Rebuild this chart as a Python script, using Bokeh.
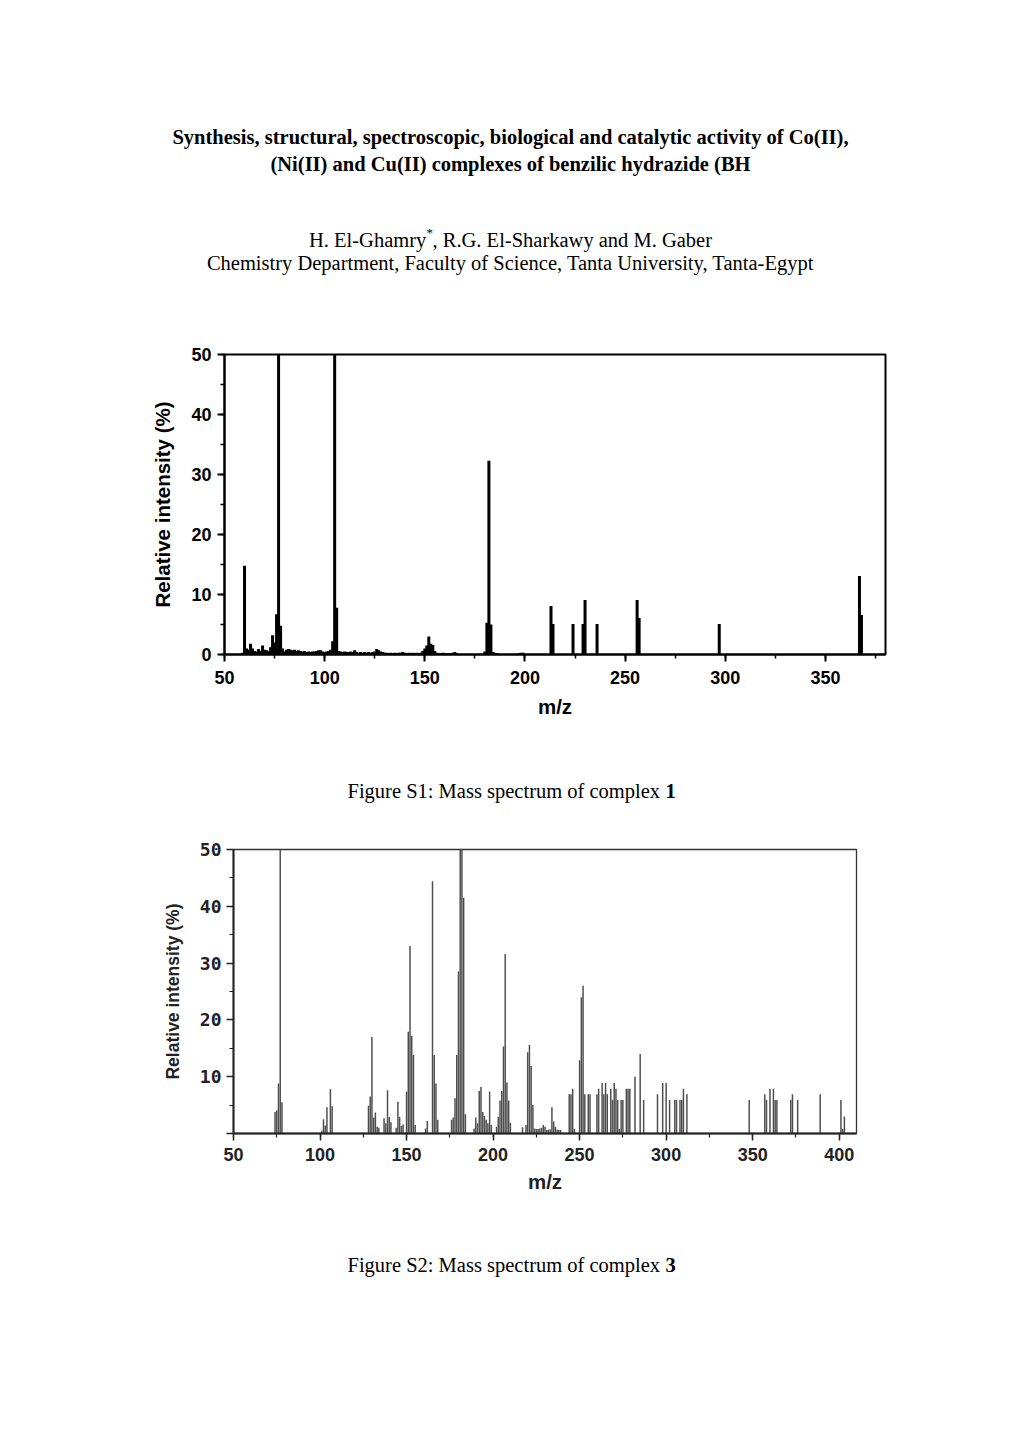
from bokeh.plotting import figure
from bokeh.layouts import column, row
from bokeh.models import Range1d, SingleIntervalTicker, FixedTicker
from bokeh.embed import file_html
from bokeh.resources import INLINE
from bokeh.core.properties import value

# ---------------- data ----------------
# Figure S1: complex 1 (m/z, relative intensity %)
s1_mz = [59, 60, 61, 62, 63, 64, 65, 66, 67, 68, 69, 70, 71, 72, 73, 74, 75, 76, 77, 78,
         79, 80, 81, 82, 83, 84, 85, 86, 87, 88, 89, 90, 91, 92, 93, 94, 95, 96, 97, 98,
         99, 100, 101, 102, 103, 104, 105, 106, 107, 108, 109, 110, 111, 112, 113, 114,
         115, 116, 117, 118, 119, 120, 121, 122, 123, 124, 125, 126, 127, 128, 129, 130,
         131, 132, 133, 134, 135, 136, 137, 138, 139, 140, 141, 142, 143, 144, 145, 146,
         147, 148, 149, 150, 151, 152, 153, 154, 155, 156, 157, 158, 159, 160, 161, 162,
         163, 164, 165, 166, 167, 180, 181, 182, 183, 184, 185, 186, 197, 198, 199,
         213, 214, 224, 229, 230, 236, 256, 257, 297, 367, 368]
s1_int = [0.3, 14.8, 1.0, 0.8, 1.8, 1.0, 0.6, 0.5, 0.9, 0.6, 1.5, 0.8, 0.7, 0.6, 1.2, 3.2, 2.0, 6.7, 100, 4.8,
          1.0, 0.5, 0.8, 0.9, 0.8, 0.7, 0.8, 0.6, 0.7, 0.6, 0.5, 0.6, 0.4, 0.5, 0.4, 0.5, 0.5, 0.6, 0.7, 0.7,
          0.5, 0.4, 0.5, 0.6, 0.8, 2.2, 100, 7.8, 0.6, 0.5, 0.4, 0.5, 0.4, 0.4, 0.5, 0.4,
          0.7, 0.4, 0.3, 0.4, 0.3, 0.4, 0.3, 0.4, 0.3, 0.4, 0.5, 0.9, 0.7, 0.5, 0.4, 0.3,
          0.3, 0.2, 0.3, 0.2, 0.3, 0.2, 0.3, 0.3, 0.4, 0.3, 0.2, 0.3, 0.2, 0.3, 0.2, 0.3,
          0.2, 0.3, 0.6, 1.0, 1.5, 3.0, 1.8, 1.6, 0.6, 0.3, 0.2, 0.2, 0.3, 0.2, 0.2, 0.2,
          0.2, 0.3, 0.4, 0.2, 0.1, 0.5, 5.3, 32.3, 5.0, 0.4, 0.3, 0.2, 0.2, 0.3, 0.3,
          8.1, 5.1, 5.1, 5.1, 9.1, 5.1, 9.1, 6.1, 5.1, 13.1, 6.6]

# Figure S2: complex 3 (m/z, relative intensity %)
s2_mz = [74, 75, 76, 77, 78,
         101, 102, 103, 104, 106, 107,
         128, 129, 130, 131, 132, 133, 134,
         137, 138, 139, 140, 141,
         144, 145, 146, 147, 148, 150, 151, 152, 153, 154, 155,
         161, 162, 165, 166, 167, 168,
         176, 177, 178, 179, 180, 181, 182, 183, 184,
         189, 190, 191, 192, 193, 194, 195, 196, 197, 198, 199,
         202, 203, 204, 205, 206, 207, 208, 209, 210,
         217, 219, 220, 221, 222, 223, 224, 225, 226, 227, 228, 229, 230, 231, 232, 233,
         234, 235, 236, 237, 238, 239,
         244, 245, 246, 247, 250, 251, 252, 253, 255, 256,
         260, 261, 263, 264, 265, 266, 268, 269, 270, 271, 272, 273, 274, 275,
         277, 278, 279, 282, 285, 287,
         295, 298, 300, 302, 305, 306, 308, 309, 310, 312,
         348, 357, 358, 360, 362, 363, 364, 372, 373, 376, 389, 401, 402, 403]
s2_int = [3.8, 4.1, 8.8, 100, 5.5,
          0.5, 2.5, 1.4, 4.6, 7.8, 4.8,
          4.9, 6.5, 17.0, 2.8, 3.7, 1.2, 1.0,
          2.7, 1.8, 7.6, 2.9, 2.0,
          1.0, 5.6, 2.9, 1.3, 1.6, 7.4, 17.9, 33.0, 17.2, 13.8, 1.5,
          0.9, 2.2, 44.4, 13.8, 8.8, 2.4,
          2.4, 2.8, 6.2, 13.8, 28.5, 100, 100, 41.5, 3.4,
          0.9, 2.8, 1.8, 7.5, 8.2, 3.8, 3.1, 2.4, 1.8, 7.4, 1.5,
          1.2, 2.9, 5.8, 7.5, 15.3, 31.6, 9.0, 5.8, 1.9,
          1.1, 1.5, 14.3, 15.6, 11.9, 5.0, 0.9, 0.8, 0.8, 0.9, 1.0, 1.5, 1.2, 0.6, 0.7, 0.7,
          4.6, 2.1, 1.2, 0.7, 0.6, 0.6,
          6.9, 6.9, 7.9, 0.8, 12.9, 24.0, 26.0, 6.9, 6.9, 6.9,
          6.9, 7.9, 8.9, 6.9, 8.9, 6.9, 7.9, 5.9, 8.9, 7.9, 5.9, 0.8, 5.9, 5.9,
          7.9, 7.9, 7.9, 10.0, 14.0, 5.9,
          6.9, 8.9, 8.9, 5.9, 5.9, 5.9, 5.9, 5.9, 7.9, 6.9,
          5.9, 6.9, 5.9, 7.9, 7.9, 5.9, 5.9, 5.9, 6.9, 5.9, 6.9, 5.9, 0.8, 3.0]

title_lines = ["Synthesis, structural, spectroscopic, biological and catalytic activity of Co(II),",
               "(Ni(II) and Cu(II) complexes of benzilic hydrazide (BH"]
author_main = "H. El-Ghamry"
author_rest = ", R.G. El-Sharkawy and M. Gaber"
affiliation = "Chemistry Department, Faculty of Science, Tanta University, Tanta-Egypt"
caption1 = "Figure S1: Mass spectrum of complex "
caption1_num = "1"
caption2 = "Figure S2: Mass spectrum of complex "
caption2_num = "3"
y_label = "Relative intensity (%)"
x_label = "m/z"

SERIF = value("Liberation Serif")
W = 1004


def text_fig(y0, height):
    p = figure(width=W, height=height, x_range=Range1d(0, W),
               y_range=Range1d(y0 + height, y0), toolbar_location=None,
               output_backend="svg", min_border=0, outline_line_color=None,
               x_axis_location=None, y_axis_location=None)
    p.grid.visible = False
    return p


# ---------------- header ----------------
head = text_fig(0, 300)
head.text(x=[510, 510], y=[136, 163], text=title_lines, text_font=SERIF,
          text_font_size="20.5px", text_font_style="bold", text_align="center",
          text_baseline="middle", text_color="black")
head.text(x=[308.5], y=[239], text=[author_main], text_font=SERIF,
          text_font_size="20.5px", text_align="left", text_baseline="middle", text_color="black")
head.text(x=[426], y=[232], text=["*"], text_font=SERIF,
          text_font_size="13px", text_align="left", text_baseline="middle", text_color="black")
head.text(x=[432], y=[239], text=[author_rest], text_font=SERIF,
          text_font_size="20.5px", text_align="left", text_baseline="middle", text_color="black")
head.text(x=[510], y=[262], text=[affiliation], text_font=SERIF,
          text_font_size="20.5px", text_align="center", text_baseline="middle", text_color="black")


def caption_fig(y0, height, ymid, txt, num):
    c = text_fig(y0, height)
    c.text(x=[347], y=[ymid], text=[txt], text_font=SERIF, text_font_size="20.5px",
           text_align="left", text_baseline="middle", text_color="black")
    c.text(x=[665], y=[ymid], text=[num], text_font=SERIF, text_font_size="20.5px",
           text_font_style="bold", text_align="left", text_baseline="middle", text_color="black")
    return c


# ---------------- chart 1 ----------------
p1 = figure(width=W, height=460, x_range=Range1d(50, 380), y_range=Range1d(0, 50),
            toolbar_location=None, output_backend="svg",
            min_border_left=224, min_border_right=W - 885, min_border_top=54, min_border_bottom=106,
            outline_line_color="black", outline_line_width=2)
p1.grid.visible = False
p1.vbar(x=s1_mz, top=s1_int, width=1.5, fill_color="black", line_color=None)
p1.xaxis.ticker = SingleIntervalTicker(interval=50, num_minor_ticks=2)
p1.yaxis.ticker = SingleIntervalTicker(interval=10, num_minor_ticks=2)
for ax in (p1.xaxis, p1.yaxis):
    ax.axis_line_width = 2
    ax.axis_line_color = "black"
    ax.major_tick_in = 0
    ax.major_tick_out = 7
    ax.minor_tick_in = 0
    ax.minor_tick_out = 4
    ax.major_tick_line_width = 2
    ax.minor_tick_line_width = 1.5
    ax.major_label_text_font = "Liberation Sans"
    ax.major_label_text_font_size = "18px"
    ax.major_label_text_font_style = "bold"
    ax.major_label_text_color = "black"
    ax.axis_label_text_font = "Liberation Sans"
    ax.axis_label_text_font_size = "20.5px"
    ax.axis_label_text_font_style = "bold"
    ax.axis_label_text_color = "black"
p1.xaxis.axis_label = x_label
p1.yaxis.axis_label = y_label
p1.xaxis.major_label_standoff = 9
p1.yaxis.major_label_standoff = 6
p1.xaxis.axis_label_standoff = 8
p1.yaxis.axis_label_standoff = 14

cap1 = caption_fig(760, 60, 790, caption1, caption1_num)

# ---------------- chart 2 ----------------
p2 = figure(width=W, height=410, x_range=Range1d(50, 410), y_range=Range1d(0, 50),
            toolbar_location=None, output_backend="svg",
            min_border_left=233, min_border_right=W - 856, min_border_top=29, min_border_bottom=97,
            outline_line_color="#333333", outline_line_width=1.3)
p2.grid.visible = False
p2.vbar(x=s2_mz, top=s2_int, width=0.85, fill_color="#4d4d4d", line_color=None)
p2.xaxis.ticker = SingleIntervalTicker(interval=50, num_minor_ticks=2)
p2.yaxis.ticker = FixedTicker(ticks=[0, 10, 20, 30, 40, 50], minor_ticks=[5, 15, 25, 35, 45])
p2.yaxis.major_label_overrides = {0: ""}
for ax in (p2.xaxis, p2.yaxis):
    ax.axis_line_width = 2
    ax.axis_line_color = "#222222"
    ax.major_tick_in = 0
    ax.major_tick_out = 7
    ax.minor_tick_in = 0
    ax.minor_tick_out = 4
    ax.major_tick_line_width = 1.5
    ax.minor_tick_line_width = 1.2
    ax.major_tick_line_color = "#222222"
    ax.minor_tick_line_color = "#222222"
    ax.major_label_text_font_style = "bold"
    ax.major_label_text_color = "#222222"
    ax.axis_label_text_font = "Liberation Sans"
    ax.axis_label_text_font_style = "bold"
    ax.axis_label_text_color = "#222222"
p2.xaxis.major_label_text_font = "Liberation Sans"
p2.xaxis.major_label_text_font_size = "18px"
p2.yaxis.major_label_text_font = "DejaVu Sans Mono"
p2.yaxis.major_label_text_font_size = "18px"
p2.xaxis.axis_label = x_label
p2.yaxis.axis_label = y_label
p2.xaxis.axis_label_text_font_size = "20.5px"
p2.yaxis.axis_label_text_font_size = "17.5px"
p2.xaxis.major_label_standoff = 7
p2.yaxis.major_label_standoff = 5
p2.xaxis.axis_label_standoff = 6
p2.yaxis.axis_label_standoff = 14

cap2 = caption_fig(1230, 70, 1264, caption2, caption2_num)

layout = column(row(head), row(p1), row(cap1), row(p2), row(cap2))
open("out.html", "w").write(file_html(layout, INLINE))
